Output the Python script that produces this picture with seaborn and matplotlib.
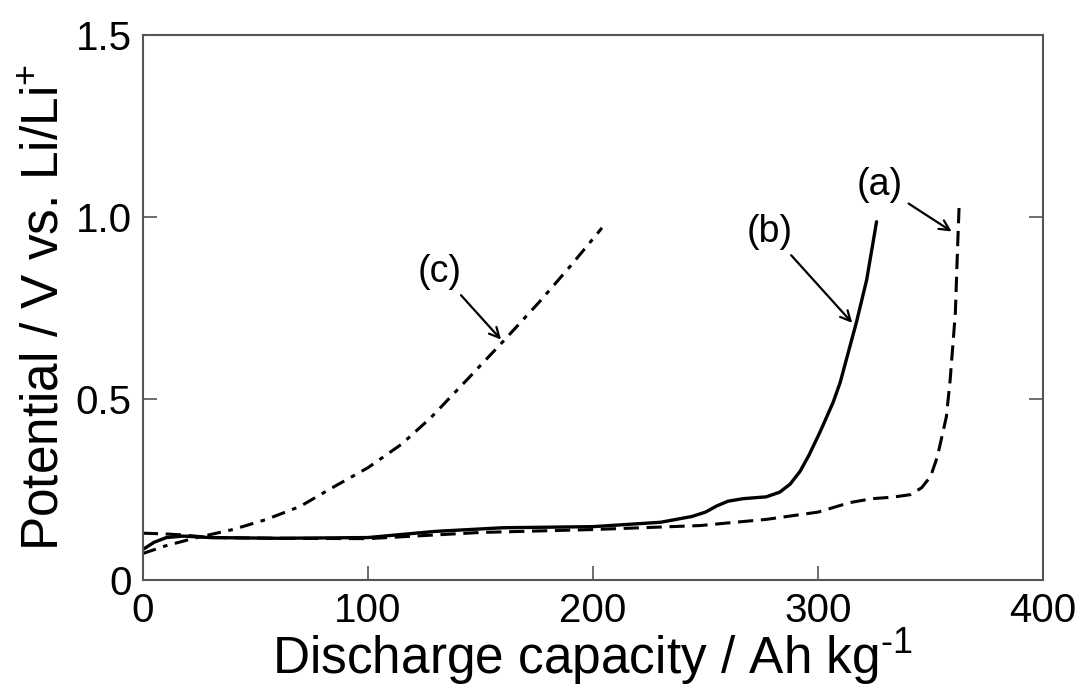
import numpy as np
import pandas as pd
import matplotlib
matplotlib.use("Agg")
import matplotlib.pyplot as plt
import seaborn as sns

# discharge curves
a_x = [0, 10, 18, 30, 60, 100, 150, 200, 247.6, 277, 300, 314, 324, 333, 341, 346, 350, 353, 357, 358.7,
       361, 362, 362.7]
a_y = [0.130, 0.128, 0.125, 0.118, 0.116, 0.115, 0.132, 0.140, 0.151, 0.168, 0.188, 0.214, 0.225, 0.229,
       0.236, 0.255, 0.286, 0.34, 0.45, 0.552, 0.736, 0.918, 1.033]

b_x = [0, 5, 10.5, 18, 30, 60, 100, 130, 160, 200, 230, 244, 250, 255, 260, 266.7, 277, 283, 287.6, 292,
       296, 301, 306.7, 309.8, 317, 321.6, 326]
b_y = [0.085, 0.105, 0.118, 0.122, 0.118, 0.116, 0.118, 0.135, 0.145, 0.148, 0.16, 0.176, 0.188, 0.205,
       0.218, 0.225, 0.230, 0.243, 0.265, 0.300, 0.345, 0.41, 0.49, 0.544, 0.709, 0.827, 0.987]

c_x = [0, 10, 24, 40, 55, 70, 85, 100, 115, 128, 144, 160, 176, 190, 204]
c_y = [0.074, 0.095, 0.118, 0.14, 0.168, 0.204, 0.258, 0.31, 0.375, 0.448, 0.552, 0.657, 0.765, 0.865, 0.97]

x_ticks = [0, 100, 200, 300, 400]
y_ticks = [0, 0.5, 1.0, 1.5]
y_ticklabels = ["0", "0.5", "1.0", "1.5"]

sns.set_style("white")
plt.rcParams['font.family'] = ['Liberation Sans', 'DejaVu Sans']
plt.rcParams['mathtext.fontset'] = 'custom'
plt.rcParams['mathtext.rm'] = 'Liberation Sans'
plt.rcParams['mathtext.it'] = 'Liberation Sans'
plt.rcParams['text.color'] = 'black'
plt.rcParams['axes.labelcolor'] = 'black'

fig, ax = plt.subplots(figsize=(10.9, 6.91), dpi=100)
fig.subplots_adjust(left=0.131, right=0.957, bottom=0.160, top=0.949)

sns.lineplot(x=a_x, y=a_y, ax=ax, color="black", lw=2.2, sort=False, estimator=None,
             linestyle=(0, (5, 2.5)))
sns.lineplot(x=b_x, y=b_y, ax=ax, color="black", lw=2.4, sort=False, estimator=None)
sns.lineplot(x=c_x, y=c_y, ax=ax, color="black", lw=2.2, sort=False, estimator=None,
             linestyle=(0, (4.5, 2.5, 1.5, 2.5)))

ax.set_xlim(0, 400)
ax.set_ylim(0, 1.5)
ax.set_xticks(x_ticks)
ax.set_yticks(y_ticks)
ax.set_yticklabels(y_ticklabels)
ax.tick_params(direction="in", length=10, width=1.2, labelsize=29,
               bottom=True, left=True, right=True, top=False, pad=8)
ax.tick_params(colors="#555555", which="both", labelcolor="black")
for s in ax.spines.values():
    s.set_color("#555555")
    s.set_linewidth(1.5)

ax.set_xlabel(r"Discharge capacity / Ah kg$^{\text{-}1}$", fontsize=37, labelpad=-2)
ax.set_ylabel("Potential / V vs. Li/Li$^{+}$", fontsize=37, labelpad=4)

arrow = dict(arrowstyle="->", color="black", lw=1.6, mutation_scale=18)
ax.annotate("(a)", xy=(360.4, 0.956), xytext=(327.5, 1.088), fontsize=27,
            ha="center", va="center", arrowprops=arrow)
ax.annotate("(b)", xy=(316, 0.703), xytext=(278.7, 0.959), fontsize=27,
            ha="center", va="center", arrowprops=arrow)
ax.annotate("(c)", xy=(160, 0.657), xytext=(132, 0.849), fontsize=27,
            ha="center", va="center", arrowprops=arrow)

plt.savefig("out.png", dpi=100)
